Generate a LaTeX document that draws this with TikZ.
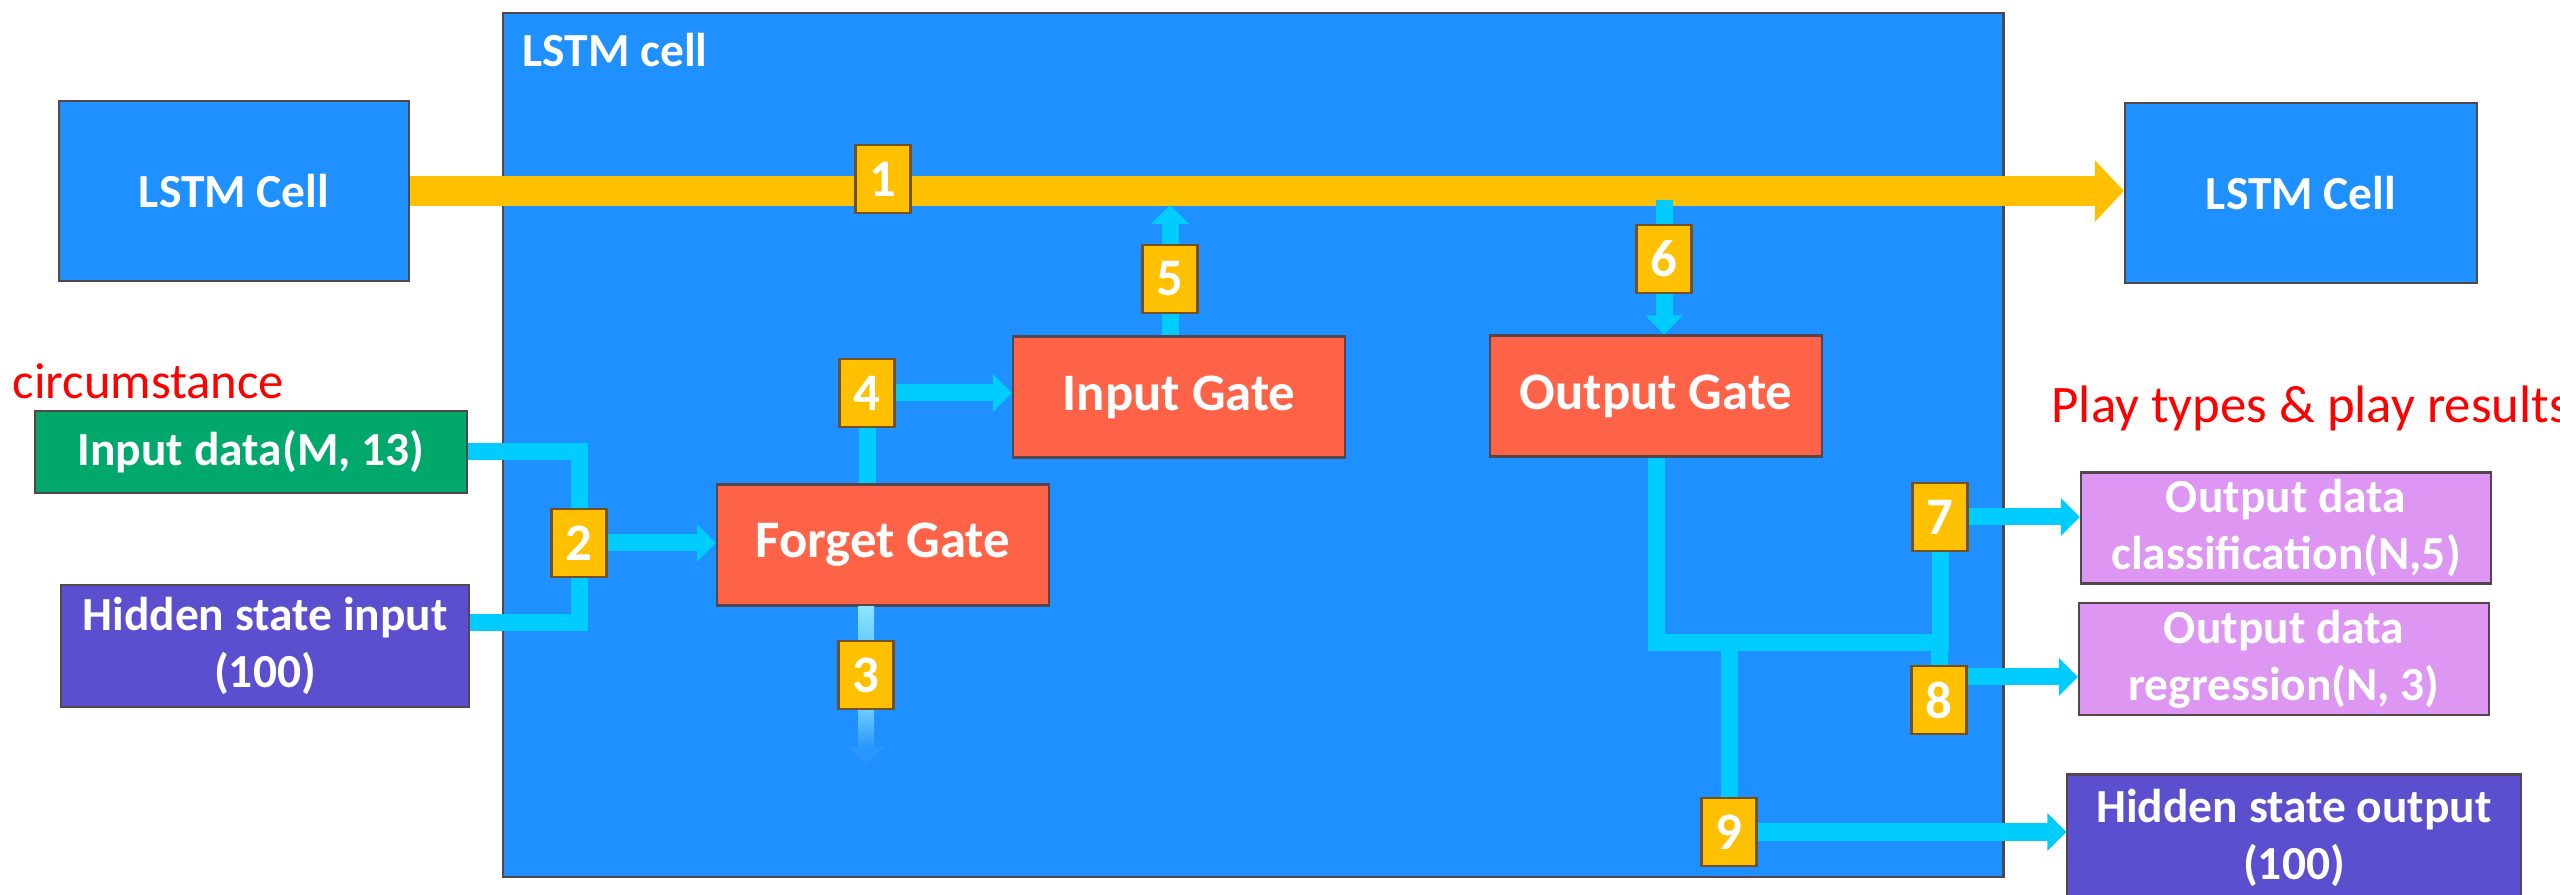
\documentclass[tikz,border=0pt]{standalone}
\usepackage{fontspec}
\setmainfont{Carlito}
\usetikzlibrary{arrows.meta,positioning}

\definecolor{cellblue}{RGB}{30,144,255}
\definecolor{barorange}{RGB}{255,192,0}
\definecolor{flowcyan}{RGB}{0,204,255}
\definecolor{gatered}{RGB}{255,99,71}
\definecolor{datagreen}{RGB}{0,168,107}
\definecolor{statepurple}{RGB}{91,79,207}
\definecolor{outviolet}{RGB}{221,150,242}
\definecolor{edgegray}{RGB}{85,70,75}
\definecolor{tagedge}{RGB}{115,80,35}
\definecolor{fadetop}{RGB}{140,230,255}
\definecolor{fademid}{RGB}{105,205,255}
\definecolor{fadelow}{RGB}{42,150,255}

\tikzset{
  box/.style={draw=edgegray, line width=0.6pt, inner sep=0pt, align=center,
    text=white, font=\fontsize{13.5}{16.2}\selectfont\bfseries},
  cellbox/.style={box, fill=cellblue},
  gate/.style={box, fill=gatered, minimum width=3.32cm, minimum height=1.21cm,
    font=\fontsize{15}{18}\selectfont\bfseries},
  tag/.style={box, draw=tagedge, fill=barorange, minimum width=0.55cm,
    minimum height=0.68cm, font=\fontsize{15}{18}\selectfont\bfseries},
  flow/.style={draw=flowcyan, line width=0.17cm},
  flowarrow/.style={flow, -{Triangle[width=0.37cm, length=0.19cm]}},
  note/.style={text=red, inner sep=0pt, anchor=base west}
}

\begin{document}
\begin{tikzpicture}[x=0.01cm, y=-0.01cm]
  \useasboundingbox (0,0) rectangle (2560,895);

  % cell and its neighbours
  \node[cellbox, minimum width=15cm, minimum height=8.64cm] (cell) at (1253,445) {};
  \node[anchor=base west, inner sep=0pt, text=white,
        font=\fontsize{13.5}{16}\selectfont\bfseries] (celltitle) at (522,67) {LSTM cell};
  \node[cellbox, minimum width=3.5cm, minimum height=1.8cm] (prev) at (234,191) {LSTM Cell};
  \node[cellbox, minimum width=3.52cm, minimum height=1.8cm] (next) at (2301,193) {LSTM Cell};

  % cell state
  \draw[barorange, line width=0.3cm, -{Triangle[width=0.6cm, length=0.29cm]}]
    (prev.east) -- (prev.east -| next.west);

  % gates
  \node[gate] (forget) at (883,545) {Forget Gate};
  \node[gate] (input) at (1179,397) {Input Gate};
  \node[gate] (output) at (1656,396) {Output Gate};

  % data
  \node[box, fill=datagreen, minimum width=4.32cm, minimum height=0.82cm] (indata) at (251,452) {Input data(M, 13)};
  \node[box, fill=statepurple, minimum width=4.07cm, minimum height=1.22cm] (hidin) at (265,646) {Hidden state input\\(100)};
  \node[box, fill=outviolet, minimum width=4.10cm, minimum height=1.11cm] (outcls) at (2286,528) {Output data\\classification(N,5)};
  \node[box, fill=outviolet, minimum width=4.10cm, minimum height=1.12cm] (outreg) at (2284,659) {Output data\\regression(N, 3)};
  \node[box, fill=statepurple, minimum width=4.53cm, minimum height=1.27cm] (hidout) at (2294,838) {Hidden state output\\(100)};

  \node[note, font=\fontsize{14.4}{17}\selectfont] (circ) at (12,399) {circumstance};
  \node[note, font=\fontsize{15}{18}\selectfont] (play) at (2051,423) {Play types \& play results};

  % numbered steps
  \foreach \n/\x/\y in {1/883/179, 2/579/543, 3/866/675, 4/867/393, 5/1170/279,
                        6/1664/259, 7/1940/517, 8/1939/700, 9/1729/832}
    \node[tag] (t\n) at (\x,\y) {\n};

  \coordinate (c5) at (1170,205);
  \coordinate (c6) at (1664,200);
  \coordinate (join) at (1656,643);

  % flows
  \draw[flow] (indata.east) -| (t2.north);
  \draw[flow] ([yshift=0.23cm]hidin.east) -| (t2.south);
  \draw[flowarrow] (t2.east) -- (t2.east -| forget.west);
  \draw[flow] (t4 |- forget.north) -- (t4.south);
  \draw[flowarrow] (t4.east) -- (t4.east -| input.west);
  \draw[flow] (t5 |- input.north) -- (t5.south);
  \draw[flowarrow] (t5.north) -- (c5);
  \draw[flow] (c6) -- (t6.north);
  \draw[flowarrow] (t6.south) -- (t6 |- output.north);
  \draw[flow] (output.south) -- (join) -| (t7.south);
  \draw[flow] (join -| t8) -- (t8.north);
  \draw[flow] (join -| t9) -- (t9.north);
  \draw[flowarrow] (t7.east) -- (t7.east -| outcls.west);
  \draw[flowarrow] ([yshift=0.23cm]t8.east) -- ([yshift=0.23cm]t8.east -| outreg.west);
  \draw[flowarrow] (t9.east) -- (t9.east -| hidout.west);

  % fading forget path
  \shade[top color=fadetop, bottom color=fademid]
    ([xshift=-0.08cm]t3 |- forget.south) rectangle ([xshift=0.08cm]t3.north);
  \shade[top color=fademid, bottom color=fadelow]
    ([xshift=-0.08cm]t3.south) rectangle ([xshift=0.08cm, yshift=-0.37cm]t3.south);
  \fill[fadelow] ([xshift=-0.18cm, yshift=-0.37cm]t3.south) -- ([xshift=0.18cm, yshift=-0.37cm]t3.south)
    -- ([yshift=-0.54cm]t3.south) -- cycle;
\end{tikzpicture}
\end{document}
